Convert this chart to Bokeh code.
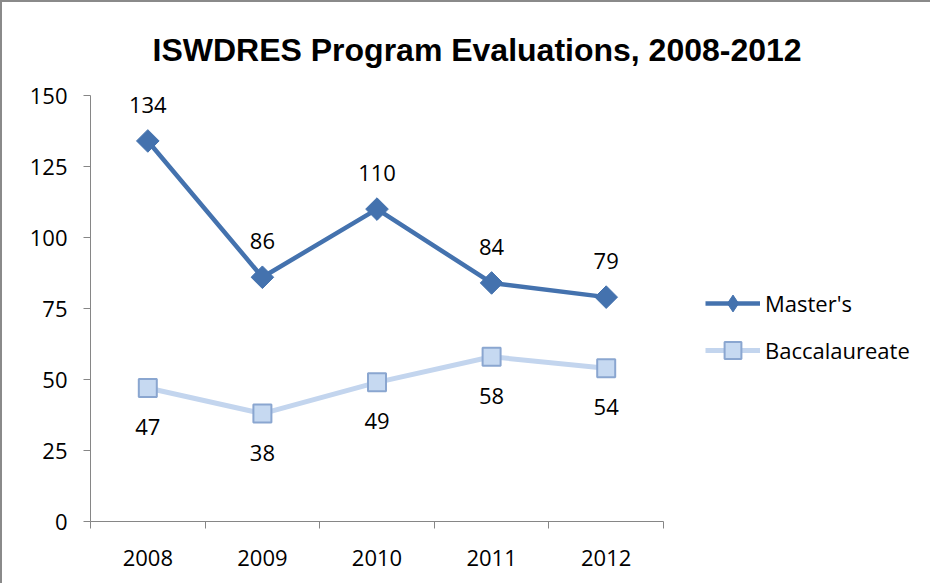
from bokeh.plotting import figure
from bokeh.models import (Range1d, FixedTicker, Legend, LegendItem, LinearAxis,
                          ColumnDataSource, LabelSet, CustomJSTickFormatter)
from bokeh.core.properties import value
from bokeh.embed import file_html
from bokeh.resources import INLINE

# ---- data ----
years = ["2008", "2009", "2010", "2011", "2012"]
masters = [134, 86, 110, 84, 79]
bacc = [47, 38, 49, 58, 54]
y_ticks = [0, 25, 50, 75, 100, 125, 150]
title_text = "ISWDRES Program Evaluations, 2008-2012"
series_names = ["Master's", "Baccalaureate"]

xs = list(range(1, len(years) + 1))
bounds = [i + 0.5 for i in range(0, len(years) + 1)]

FONT = "Open Sans"
W, H = 930, 583
LEFT, RIGHT, TOP, BOTTOM = 88, 5, 93, 64
AXIS_PX = 573                      # pixel length of the category axis
frame_w = W - LEFT - RIGHT
x_end = 0.5 + len(years) * frame_w / AXIS_PX   # extra room on the right for the legend

p = figure(width=W, height=H, output_backend="svg", toolbar_location=None,
           x_range=Range1d(0.5, x_end), y_range=Range1d(0, 150),
           min_border_left=LEFT, min_border_right=RIGHT, min_border_top=TOP,
           min_border_bottom=BOTTOM, x_axis_type=None, y_axis_type=None)
p.outline_line_color = None
p.background_fill_color = "white"
p.border_fill_color = "white"
p.styles = {"border-top": "2px solid #8a8a8a", "border-left": "2px solid #8a8a8a"}

# title
p.title.text = title_text
p.title.align = "left"
p.title.offset = 62
p.title.standoff = 55
p.title.text_font = "Liberation Sans"
p.title.text_font_size = "32px"
p.title.text_font_style = "bold"
p.title.text_color = "#000000"

AX = "#868686"
# y axis
yax = LinearAxis(ticker=FixedTicker(ticks=y_ticks))
yax.axis_line_color = AX
yax.major_tick_line_color = AX
yax.major_tick_out = 7
yax.major_tick_in = 0
yax.minor_tick_line_color = None
yax.major_label_standoff = 16
yax.major_label_text_font = FONT
yax.major_label_text_font_size = "22px"
yax.major_label_text_color = "#000000"
p.add_layout(yax, "left")

# x axis: labels at centers, ticks at category boundaries
xax = LinearAxis(ticker=FixedTicker(ticks=xs, minor_ticks=bounds),
                 bounds=(0.5, len(years) + 0.5))
xax.formatter = CustomJSTickFormatter(args=dict(labels=years),
                                      code="return labels[Math.round(tick) - 1];")
xax.axis_line_color = AX
xax.major_tick_line_color = None
xax.major_tick_out = 0
xax.major_tick_in = 0
xax.minor_tick_line_color = AX
xax.minor_tick_out = 7
xax.minor_tick_in = 0
xax.major_label_standoff = 21
xax.major_label_text_font = FONT
xax.major_label_text_font_size = "22px"
xax.major_label_text_color = "#000000"
p.add_layout(xax, "below")

DARK = "#4472AE"
LIGHT_LINE = "#C3D5EE"
LIGHT_FILL = "#C6D9F1"
LIGHT_EDGE = "#8AA6D0"

m_line = p.line(xs, masters, line_color=DARK, line_width=4.5)
# diamond marker (drawn underneath the rotated squares) that gives the legend its key
m_key = p.scatter(xs, masters, marker="diamond", size=14, fill_color=DARK, line_color=DARK)
m_mark = p.scatter(xs, masters, marker="square", angle=0.785398, size=16,
                   fill_color=DARK, line_color=DARK)
b_line = p.line(xs, bacc, line_color=LIGHT_LINE, line_width=5)
b_mark = p.scatter(xs, bacc, marker="square", size=18, fill_color=LIGHT_FILL,
                   line_color=LIGHT_EDGE, line_width=2)

src_m = ColumnDataSource(dict(x=xs, y=masters, t=[str(v) for v in masters]))
src_b = ColumnDataSource(dict(x=xs, y=bacc, t=[str(v) for v in bacc]))
p.add_layout(LabelSet(x="x", y="y", text="t", source=src_m, y_offset=36,
                      text_align="center", text_baseline="middle",
                      text_font=value(FONT), text_font_size="22px", text_color="#000000"))
p.add_layout(LabelSet(x="x", y="y", text="t", source=src_b, y_offset=-39,
                      text_align="center", text_baseline="middle",
                      text_font=value(FONT), text_font_size="22px", text_color="#000000"))

legend = Legend(items=[LegendItem(label=series_names[0], renderers=[m_line, m_key]),
                       LegendItem(label=series_names[1], renderers=[b_line, b_mark])],
                location=(615, 150))
legend.border_line_color = None
legend.background_fill_alpha = 0
legend.padding = 0
legend.margin = 0
legend.glyph_width = 55
legend.glyph_height = 42
legend.spacing = 5
legend.label_standoff = 5
legend.label_text_font = FONT
legend.label_text_font_size = "22px"
legend.label_text_color = "#000000"
p.add_layout(legend, "center")

open("out.html", "w").write(file_html(p, INLINE))
